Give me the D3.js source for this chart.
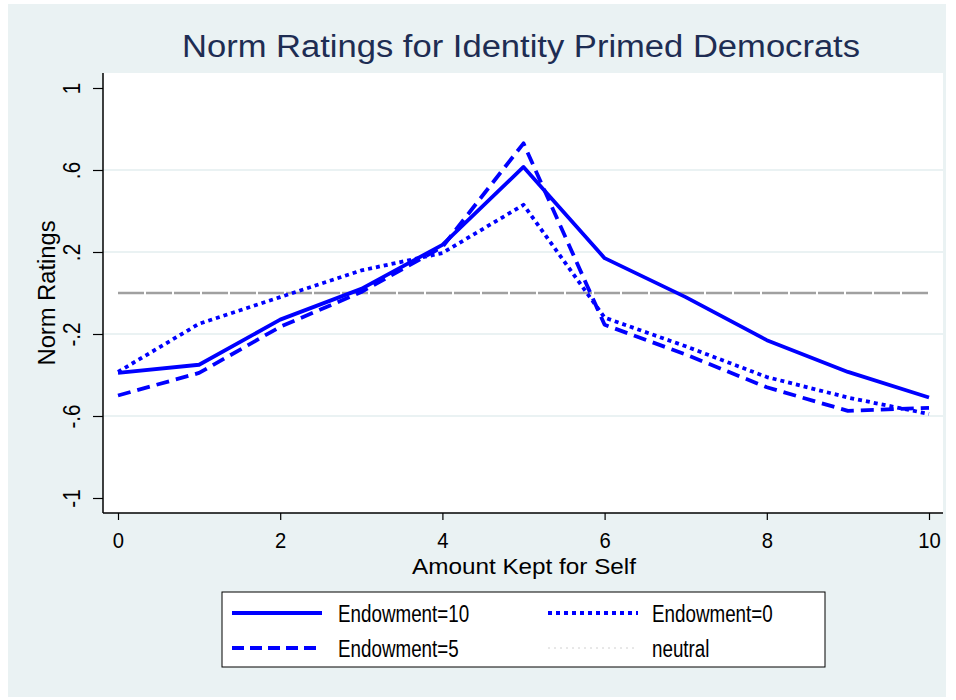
<!DOCTYPE html>
<html>
<head>
<meta charset="utf-8">
<script src="https://cdn.jsdelivr.net/npm/d3@7"></script>
<style>
  body { margin: 0; background: #fff; }
  svg text { font-family: "Liberation Sans", Arial, sans-serif; }
</style>
</head>
<body>
<svg id="chart" width="956" height="700"></svg>
<script>
// data
var kept = [0, 1, 2, 3, 4, 5, 6, 7, 8, 9, 10];
var endow10 = [-0.39, -0.35, -0.13, 0.02, 0.235, 0.615, 0.17, -0.02, -0.23, -0.385, -0.51];
var endow5 = [-0.50, -0.39, -0.165, 0.005, 0.225, 0.73, -0.155, -0.30, -0.46, -0.575, -0.56];
var endow0 = [-0.385, -0.15, -0.02, 0.11, 0.195, 0.43, -0.12, -0.26, -0.41, -0.51, -0.59];
var neutral = [0, 0];
var neutralX = [0, 10];
var yTicks = [-1, -0.6, -0.2, 0.2, 0.6, 1];
var yTickLabels = ["-1", "-.6", "-.2", ".2", ".6", "1"];
var xTicks = [0, 2, 4, 6, 8, 10];

var svg = d3.select("#chart");
var bg = "#eaf2f3", blue = "#0000ff";

// squeeze a text node horizontally so it reads like the narrow stata font
function squeeze(sel, k){
  sel.each(function(){
    var len = this.getComputedTextLength();
    d3.select(this).attr("textLength", len * k).attr("lengthAdjust", "spacingAndGlyphs");
  });
}

// outer graph region
svg.append("rect").attr("x", 8).attr("y", 4).attr("width", 938).attr("height", 693).attr("fill", bg);

var plotL = 103, plotR = 943, plotT = 73, plotB = 513;
svg.append("rect").attr("x", plotL).attr("y", plotT)
    .attr("width", plotR - plotL).attr("height", plotB - plotT).attr("fill", "#fff");

var x = d3.scaleLinear().domain([0, 10]).range([118, 929]);
var y = d3.scaleLinear().domain([-1, 1]).range([498, 88]);

// gridlines
svg.append("g").selectAll("line")
    .data(yTicks.filter(function(d){ return Math.abs(d) < 1; }))
    .enter().append("line")
    .attr("x1", plotL).attr("x2", plotR)
    .attr("y1", function(d){ return y(d); }).attr("y2", function(d){ return y(d); })
    .attr("stroke", bg).attr("stroke-width", 2);

// axes
var yAxis = d3.axisLeft(y).tickValues(yTicks).tickSize(10)
    .tickFormat(function(d, i){ return yTickLabels[i]; });
var gy = svg.append("g").attr("transform", "translate(" + plotL + ",0)").call(yAxis);
gy.select(".domain").attr("d", "M0," + plotT + "V" + plotB).attr("stroke-width", 1.5);
gy.selectAll(".tick line").attr("stroke-width", 1.2);
gy.selectAll(".tick text")
    .attr("font-size", 23).attr("fill", "#000")
    .attr("text-anchor", "middle")
    .attr("transform", "translate(-23,0) rotate(-90)")
    .attr("x", 0).attr("y", 0).attr("dy", 0)
    .call(squeeze, 0.9);

var xAxis = d3.axisBottom(x).tickValues(xTicks).tickSize(7);
var gx = svg.append("g").attr("transform", "translate(0," + plotB + ")").call(xAxis);
gx.select(".domain").attr("d", "M" + plotL + ",0H" + plotR).attr("stroke-width", 1.5);
gx.selectAll(".tick line").attr("stroke-width", 1.2);
gx.selectAll(".tick text").attr("font-size", 22).attr("fill", "#000")
    .attr("y", 35).attr("dy", 0)
    .call(squeeze, 0.92);

// neutral line
var line = d3.line().x(function(d){ return x(d[0]); }).y(function(d){ return y(d[1]); });
svg.append("path").datum(d3.zip(neutralX, neutral)).attr("d", line)
    .attr("fill", "none").attr("stroke", "#a0a0a0").attr("stroke-width", 2.5)
    .attr("stroke-dasharray", "26,2");

var series = [
  { vals: endow10, dash: null },
  { vals: endow5, dash: "13,7" },
  { vals: endow0, dash: "4,4" }
];
series.forEach(function(s){
  svg.append("path").datum(d3.zip(kept, s.vals)).attr("d", line)
      .attr("fill", "none").attr("stroke", blue).attr("stroke-width", 3.8)
      .attr("stroke-linejoin", "round")
      .attr("stroke-dasharray", s.dash);
});

// titles
svg.append("text").attr("x", 521).attr("y", 57).attr("text-anchor", "middle")
    .attr("font-size", 31).attr("fill", "#1e2d53")
    .attr("textLength", 678).attr("lengthAdjust", "spacingAndGlyphs")
    .text("Norm Ratings for Identity Primed Democrats");
svg.append("text").attr("x", 524).attr("y", 574).attr("text-anchor", "middle")
    .attr("font-size", 22).attr("fill", "#000")
    .attr("textLength", 224).attr("lengthAdjust", "spacingAndGlyphs")
    .text("Amount Kept for Self");
svg.append("text").attr("transform", "translate(55,293) rotate(-90)")
    .attr("text-anchor", "middle").attr("font-size", 23).attr("fill", "#000")
    .attr("textLength", 145).attr("lengthAdjust", "spacingAndGlyphs")
    .text("Norm Ratings");

// legend
var leg = svg.append("g");
leg.append("rect").attr("x", 222).attr("y", 592).attr("width", 603).attr("height", 75)
    .attr("fill", "#fff").attr("stroke", "#000").attr("stroke-width", 1);
var legItems = [
  { label: "Endowment=10", col: 0, row: 0, color: blue, w: 3.8, dash: null },
  { label: "Endowment=0", col: 1, row: 0, color: blue, w: 3.8, dash: "4,4" },
  { label: "Endowment=5", col: 0, row: 1, color: blue, w: 3.8, dash: "12,6" },
  { label: "neutral", col: 1, row: 1, color: "#d0d0d0", w: 1, dash: "2,4" }
];
legItems.forEach(function(d){
  var lx = d.col ? 548 : 232, ly = d.row ? 648 : 613;
  leg.append("line").attr("x1", lx).attr("x2", lx + 90).attr("y1", ly).attr("y2", ly)
      .attr("stroke", d.color).attr("stroke-width", d.w).attr("stroke-dasharray", d.dash);
  leg.append("text").attr("x", d.col ? 652 : 338).attr("y", ly + 9)
      .attr("font-size", 23.5).attr("fill", "#000").text(d.label)
      .call(squeeze, 0.8);
});
</script>
</body>
</html>
